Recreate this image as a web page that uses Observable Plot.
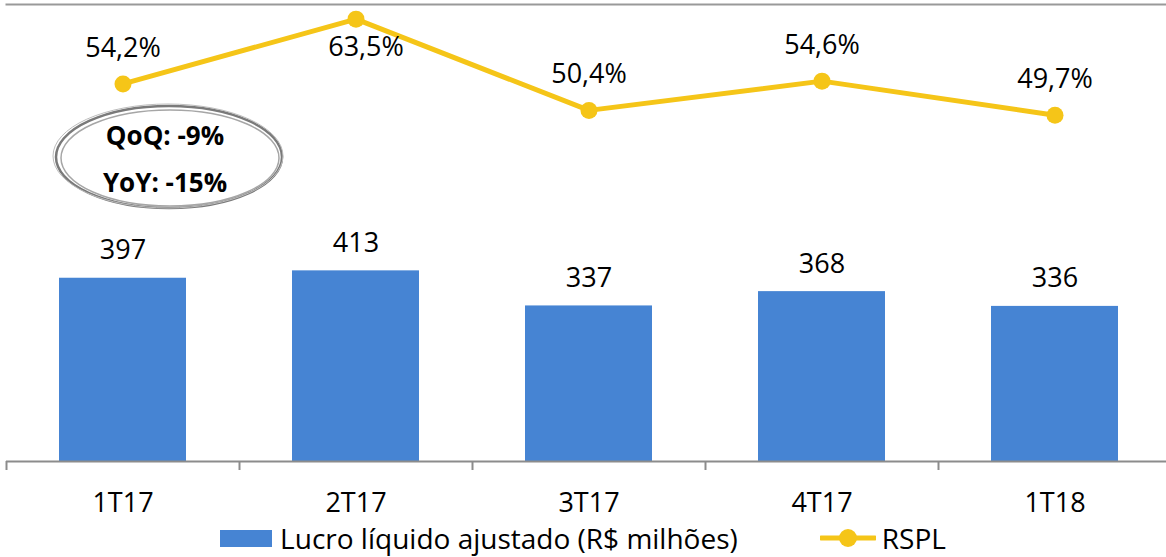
<!DOCTYPE html>
<html><head><meta charset="utf-8">
<script src="https://cdn.jsdelivr.net/npm/d3@7"></script>
<script src="https://cdn.jsdelivr.net/npm/@observablehq/plot@0.6"></script>
<style>
body{margin:0;background:#fff;}
#wrap{position:relative;width:1166px;height:557px;overflow:hidden;font-family:"Open Sans",sans-serif;color:#000;}
#wrap .layer{position:absolute;left:0;top:0;max-width:none !important;}
#legend{position:absolute;left:0;top:522px;width:1166px;height:32px;line-height:32px;display:flex;justify-content:center;align-items:center;font-size:28px;}
#legend .item{display:flex;align-items:center;}
#legend .sw{width:52px;height:17px;background:#4684d3;margin-right:8px;}
</style></head><body>
<div id="wrap"></div>
<script>
const categories = ["1T17","2T17","3T17","4T17","1T18"];
const lucro = [397, 413, 337, 368, 336];
const rspl = [54.2, 63.5, 50.4, 54.6, 49.7];
const annotationLines = ["QoQ: -9%", "YoY: -15%"];
const legendLabels = ["Lucro líquido ajustado (R$ milhões)", "RSPL"];

const BLUE = "#4684d3", YELLOW = "#f5c518", GRAY = "#8c8c8c";
const FONT = "'Open Sans', sans-serif";
const W = 1171, H = 520, MT = 4, MB = 59, ML = 6, MR = 0;
const step = (W - ML - MR) / categories.length;
const fmtPct = v => v.toFixed(1).replace(".", ",") + "%";

const barData = categories.map((c, i) => ({cat: c, v: lucro[i]}));
const lineData = categories.map((c, i) => ({cat: c, v: rspl[i]}));
const maxR = d3.max(rspl);

const xOpts = {type: "band", domain: categories, paddingInner: 0.455, paddingOuter: 0.2275, round: false};
const common = {width: W, height: H, marginTop: MT, marginBottom: MB, marginLeft: ML, marginRight: MR,
  style: {fontFamily: FONT, fontSize: "27px", color: "#000", background: "transparent", overflow: "visible", maxWidth: "none"}};

const bars = Plot.plot({
  ...common,
  x: xOpts,
  y: {domain: [0, 990], axis: null},
  marks: [
    Plot.barY(barData, {x: "cat", y: "v", fill: BLUE}),
    Plot.text(barData, {x: "cat", y: "v", text: d => String(d.v), dy: -19, lineAnchor: "bottom", fontSize: 27, fill: "#000"}),
    Plot.ruleY([0], {stroke: GRAY, strokeWidth: 2}),
    Plot.ruleX(categories, {x: d => d, dx: -step / 2, stroke: GRAY, strokeWidth: 2, insetTop: H - MT - MB - 9, dy: 9}),
    Plot.axisX({tickSize: 0, tickPadding: 31, fontSize: 27, fill: "#000", label: null})
  ]
});
bars.classList.add("layer");

const line = Plot.plot({
  ...common,
  x: {...xOpts, axis: null},
  y: {domain: [0, 65.6], axis: null},
  marks: [
    Plot.frame({anchor: "top", stroke: "#999", strokeWidth: 2}),
    Plot.line(lineData, {x: "cat", y: "v", stroke: YELLOW, strokeWidth: 5}),
    Plot.dot(lineData, {x: "cat", y: "v", r: 8.5, fill: YELLOW}),
    Plot.text(lineData.filter(d => d.v < maxR), {x: "cat", y: "v", text: d => fmtPct(d.v), dy: -27, lineAnchor: "bottom", fontSize: 27, fill: "#000"}),
    Plot.text(lineData.filter(d => d.v === maxR), {x: "cat", y: "v", text: d => fmtPct(d.v), dy: 37, dx: 10, lineAnchor: "bottom", fontSize: 27, fill: "#000"})
  ]
});
line.classList.add("layer");

const wrap = document.getElementById("wrap");
wrap.appendChild(bars);
wrap.appendChild(line);

// Annotation (sketchy ellipse)
const ann = d3.create("svg").attr("class", "layer").attr("width", 1166).attr("height", 557).style("pointer-events", "none");
const cx = 169, cy = 157;
ann.append("ellipse").attr("cx", cx).attr("cy", cy).attr("rx", 113).attr("ry", 51).attr("fill", "#fff").attr("stroke", "#7a7a7a").attr("stroke-width", 2.5);
ann.append("ellipse").attr("cx", cx + 1).attr("cy", cy + 1).attr("rx", 109).attr("ry", 48).attr("fill", "none").attr("stroke", "#a6a6a6").attr("stroke-width", 1.5);
ann.append("ellipse").attr("cx", cx - 1).attr("cy", cy - 1).attr("rx", 115).attr("ry", 52).attr("fill", "none").attr("stroke", "#bdbdbd").attr("stroke-width", 1);
ann.selectAll("text.a").data(annotationLines).join("text")
  .attr("x", 165).attr("y", (d, i) => 145 + i * 47)
  .attr("text-anchor", "middle").attr("font-family", FONT).attr("font-weight", "bold").attr("font-size", 26).attr("fill", "#000")
  .text(d => d);
wrap.appendChild(ann.node());

// Legend
const legend = d3.select(wrap).append("div").attr("id", "legend");
const it1 = legend.append("div").attr("class", "item");
it1.append("div").attr("class", "sw");
it1.append("span").text(legendLabels[0]);
const it2 = legend.append("div").attr("class", "item").style("margin-left", "82px");
const sw2 = it2.append("svg").attr("width", 56).attr("height", 22).style("margin-right", "6px");
sw2.append("line").attr("x1", 1).attr("x2", 55).attr("y1", 11).attr("y2", 11).attr("stroke", YELLOW).attr("stroke-width", 5).attr("stroke-linecap", "round");
sw2.append("circle").attr("cx", 28).attr("cy", 11).attr("r", 9).attr("fill", YELLOW);
it2.append("span").text(legendLabels[1]);
</script>
</body></html>
